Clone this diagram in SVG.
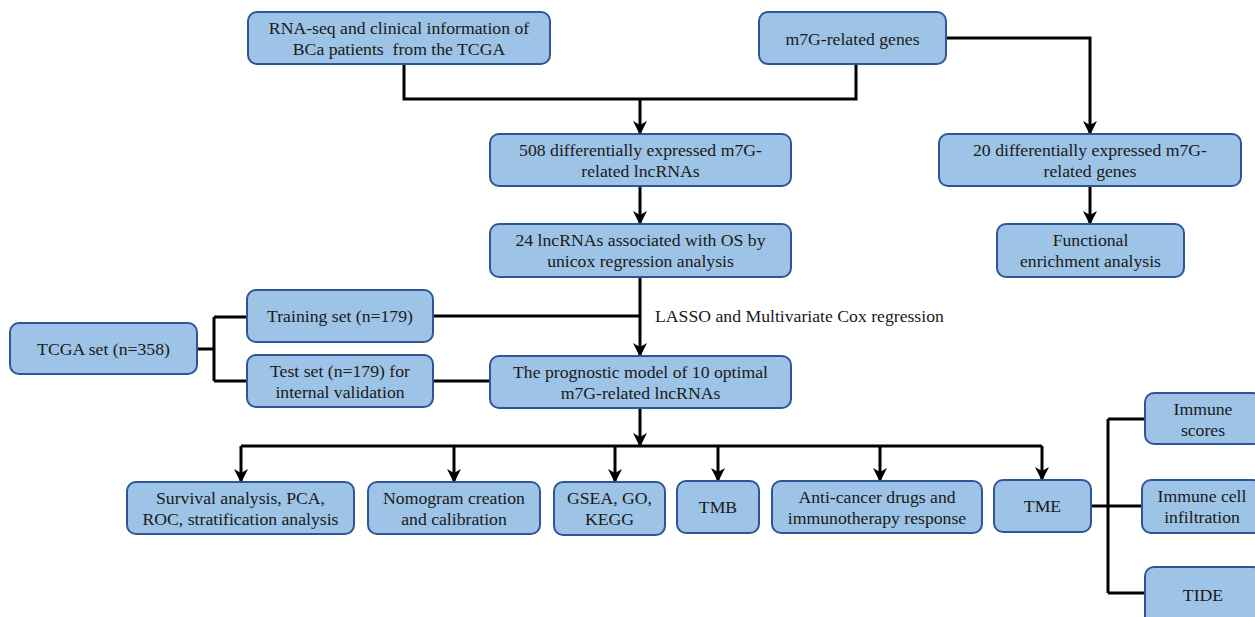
<svg xmlns="http://www.w3.org/2000/svg" width="1255" height="617" viewBox="0 0 1255 617" font-family="'Liberation Serif', 'Times New Roman', serif">
<style>
.box{fill:#9DC3E6;stroke:#2F5597;stroke-width:2}
text{font-family:'Liberation Serif','Times New Roman',serif;font-size:17.7px;fill:#1a1a1a}
.t{text-anchor:middle;dominant-baseline:central}
.lbl{dominant-baseline:central}
.c{fill:none;stroke:#000;stroke-width:3}
.a{marker-end:url(#arr)}
</style>
<defs>
<marker id="arr" markerUnits="userSpaceOnUse" viewBox="0 0 14 14" markerWidth="14" markerHeight="14" refX="13" refY="7" orient="auto">
<path d="M0,0 L14,7 L0,14 L4,7 z" fill="#000"/>
</marker>
</defs>
<rect width="1255" height="617" fill="#fff"/>
<g id="connectors">
<path class="c" d="M404,64 V99 H856 V64"/>
<path class="c a" d="M640,99 V134"/>
<path class="c a" d="M946,38 H1090 V134"/>
<path class="c a" d="M640,186 V224"/>
<path class="c a" d="M1090,186 V224"/>
<path class="c a" d="M640,277 V356"/>
<path class="c" d="M433,316 H640"/>
<path class="c" d="M433,381 H490"/>
<path class="c" d="M197,349 H214 M214,317 V381 M214,317 H247 M214,381 H247"/>
<path class="c a" d="M640,408 V446"/>
<path class="c" d="M241,446 H1042"/>
<path class="c a" d="M241,446 V482"/>
<path class="c a" d="M454,446 V482"/>
<path class="c a" d="M615,446 V482"/>
<path class="c a" d="M718,446 V481"/>
<path class="c a" d="M880,446 V481"/>
<path class="c a" d="M1042,446 V480"/>
<path class="c" d="M1091,506 H1108 M1108,419 V593 M1108,419 H1145 M1108,506 H1142 M1108,593 H1145"/>
<text class="lbl" x="655" y="316">LASSO and Multivariate Cox regression</text>
</g>
<g id="rna"><rect class="box" x="248" y="12" width="302" height="52" rx="9"/><text class="t" x="399" y="28">RNA-seq and clinical information of</text><text class="t" x="399" y="49" xml:space="preserve">BCa patients  from the TCGA</text></g>
<g id="m7g"><rect class="box" x="759" y="12" width="187" height="52" rx="9"/><text class="t" x="852.5" y="39">m7G-related genes</text></g>
<g id="deg508"><rect class="box" x="490" y="134" width="301" height="52" rx="9"/><text class="t" x="640.5" y="150">508 differentially expressed m7G-</text><text class="t" x="640.5" y="171">related lncRNAs</text></g>
<g id="deg20"><rect class="box" x="939" y="134" width="302" height="52" rx="9"/><text class="t" x="1090" y="150">20 differentially expressed m7G-</text><text class="t" x="1090" y="171">related genes</text></g>
<g id="func"><rect class="box" x="997" y="224" width="187" height="53" rx="9"/><text class="t" x="1090.5" y="240">Functional</text><text class="t" x="1090.5" y="261">enrichment analysis</text></g>
<g id="lnc24"><rect class="box" x="490" y="224" width="301" height="53" rx="9"/><text class="t" x="640.5" y="240">24 lncRNAs associated with OS by</text><text class="t" x="640.5" y="261">unicox regression analysis</text></g>
<g id="tcga"><rect class="box" x="10" y="323" width="187" height="51" rx="9"/><text class="t" x="103.5" y="349">TCGA set (n=358)</text></g>
<g id="train"><rect class="box" x="247" y="290" width="186" height="52" rx="9"/><text class="t" x="340" y="316">Training set (n=179)</text></g>
<g id="test"><rect class="box" x="247" y="355" width="186" height="52" rx="9"/><text class="t" x="340" y="371">Test set (n=179) for</text><text class="t" x="340" y="392">internal validation</text></g>
<g id="prog"><rect class="box" x="490" y="356" width="301" height="52" rx="9"/><text class="t" x="640.5" y="372">The prognostic model of 10 optimal</text><text class="t" x="640.5" y="393">m7G-related lncRNAs</text></g>
<g id="surv"><rect class="box" x="127" y="482" width="227" height="52" rx="9"/><text class="t" x="240.5" y="498">Survival analysis, PCA,</text><text class="t" x="240.5" y="519">ROC, stratification analysis</text></g>
<g id="nomo"><rect class="box" x="368" y="482" width="172" height="52" rx="9"/><text class="t" x="454" y="498">Nomogram creation</text><text class="t" x="454" y="519">and calibration</text></g>
<g id="gsea"><rect class="box" x="554" y="482" width="111" height="53" rx="9"/><text class="t" x="609.5" y="498">GSEA, GO,</text><text class="t" x="609.5" y="519">KEGG</text></g>
<g id="tmb"><rect class="box" x="677" y="481" width="82" height="52" rx="9"/><text class="t" x="718" y="507">TMB</text></g>
<g id="anti"><rect class="box" x="772" y="481" width="210" height="52" rx="9"/><text class="t" x="877" y="497">Anti-cancer drugs and</text><text class="t" x="877" y="518">immunotherapy response</text></g>
<g id="tme"><rect class="box" x="994" y="480" width="97" height="52" rx="9"/><text class="t" x="1042.5" y="506">TME</text></g>
<g id="iscore"><rect class="box" x="1145" y="393" width="117" height="51" rx="9"/><text class="t" x="1203" y="409">Immune</text><text class="t" x="1203" y="430">scores</text></g>
<g id="icell"><rect class="box" x="1142" y="480" width="120" height="53" rx="9"/><text class="t" x="1202" y="496">Immune cell</text><text class="t" x="1202" y="517">infiltration</text></g>
<g id="tide"><rect class="box" x="1145" y="567" width="117" height="60" rx="9"/><text class="t" x="1203" y="595">TIDE</text></g>
</svg>
